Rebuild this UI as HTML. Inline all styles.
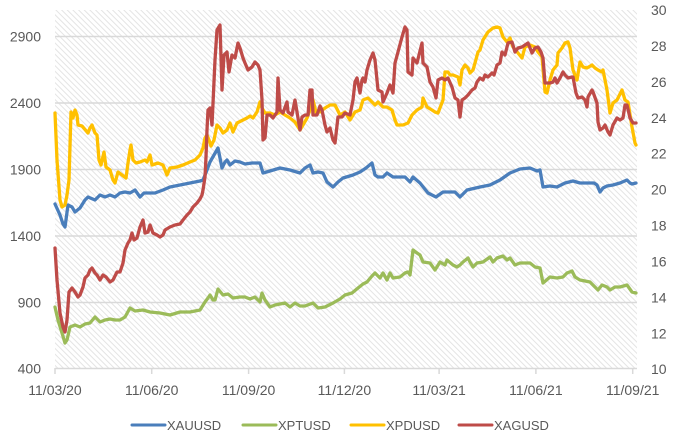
<!DOCTYPE html>
<html><head><meta charset="utf-8"><style>
html,body{margin:0;padding:0;background:#fff;}
svg{display:block;font-family:"Liberation Sans",sans-serif;}
</style></head><body>
<svg width="674" height="439" viewBox="0 0 674 439" xmlns="http://www.w3.org/2000/svg">
<defs>
<pattern id="h" width="4" height="4" patternUnits="userSpaceOnUse" patternTransform="rotate(-45)">
<rect width="4" height="4" fill="#ffffff"/>
<rect width="1" height="4" fill="#e4e4e4"/>
</pattern>
</defs>
<rect x="55" y="10" width="582" height="358" fill="url(#h)"/>
<g stroke="#d9d9d9" stroke-width="1.5">
<line x1="55" y1="36.5" x2="637" y2="36.5"/>
<line x1="55" y1="103" x2="637" y2="103"/>
<line x1="55" y1="169.5" x2="637" y2="169.5"/>
<line x1="55" y1="236" x2="637" y2="236"/>
<line x1="55" y1="302.5" x2="637" y2="302.5"/>
<line x1="55" y1="368.5" x2="637" y2="368.5"/>
<line x1="55" y1="368" x2="55" y2="374"/>
<line x1="151.7" y1="368" x2="151.7" y2="374"/>
<line x1="248.6" y1="368" x2="248.6" y2="374"/>
<line x1="344.4" y1="368" x2="344.4" y2="374"/>
<line x1="439.1" y1="368" x2="439.1" y2="374"/>
<line x1="535.9" y1="368" x2="535.9" y2="374"/>
<line x1="632.7" y1="368" x2="632.7" y2="374"/>
</g>
<g fill="#595959" font-size="14" text-anchor="end">
<text x="41" y="41.5">2900</text>
<text x="41" y="108">2400</text>
<text x="41" y="174.5">1900</text>
<text x="41" y="241">1400</text>
<text x="41" y="307.5">900</text>
<text x="41" y="373.5">400</text>
</g>
<g fill="#595959" font-size="14" text-anchor="start">
<text x="651" y="15">30</text>
<text x="651" y="51">28</text>
<text x="651" y="87">26</text>
<text x="651" y="123">24</text>
<text x="651" y="158.5">22</text>
<text x="651" y="194.5">20</text>
<text x="651" y="230.5">18</text>
<text x="651" y="266.5">16</text>
<text x="651" y="302.5">14</text>
<text x="651" y="338.5">12</text>
<text x="651" y="374">10</text>
</g>
<g fill="#595959" font-size="14" text-anchor="middle">
<text x="55" y="395">11/03/20</text>
<text x="151.7" y="395">11/06/20</text>
<text x="248.6" y="395">11/09/20</text>
<text x="344.4" y="395">11/12/20</text>
<text x="439.1" y="395">11/03/21</text>
<text x="535.9" y="395">11/06/21</text>
<text x="632.7" y="395">11/09/21</text>
</g>
<g fill="none" stroke-width="3.3" stroke-linejoin="round" stroke-linecap="round">
<polyline stroke="#4a7ebb" points="55,204 60,215 63,224 65,227 68,205 72,207 75,212 80,208 85,200 88,197 95,200 100,195 105,197 110,195 115,197 120,193 125,192 130,193 135,190 140,197 144,193 148,193 155,193 163,190 170,187 180,185 190,183 200,181 203,180 207,170 210,162 214,155 218,148 222,168 225,162 227,160 230,165 235,161 240,162 245,164 252,163 260,163 263,173 270,171 280,168 290,170 300,173 305,168 310,165 313,173 318,172 323,173 327,182 333,187 338,182 343,178 353,175 360,172 366,168 372,163 375,175 378,177 383,177 387,173 393,177 405,177 410,182 413,177 420,183 428,193 436,197 443,192 455,192 460,197 467,190 480,187 490,185 500,180 510,173 520,169 530,168 537,171 540,170 543,187 550,186 557,187 565,183 573,181 580,183 587,183 594,183 597,185 600,192 603,188 607,186 613,185 620,183 627,180 630,183 632,184 636,183"/>
<polyline stroke="#9bbb59" points="55,307 58,320 62,333 65,343 67,340 70,327 75,325 80,327 85,324 90,323 95,317 100,322 105,320 110,319 115,320 120,320 125,317 130,308 135,311 143,310 150,312 160,313 170,315 180,312 190,312 200,310 205,302 208,298 210,295 213,300 215,300 218,289 223,295 228,294 233,298 240,297 245,297 250,299 255,297 260,302 262,293 265,300 270,307 275,305 285,303 290,307 295,303 300,306 305,306 313,303 318,308 325,307 333,303 340,299 345,295 352,293 358,288 363,284 367,282 372,276 375,273 380,278 383,273 387,280 390,273 393,278 400,277 405,273 408,272 410,275 413,250 417,253 420,255 423,262 430,263 435,270 440,262 445,265 447,260 453,265 457,267 460,265 463,262 468,258 470,262 473,267 477,263 483,262 490,257 493,262 497,258 503,256 507,260 510,258 515,265 520,263 530,263 535,267 540,268 543,283 550,277 557,278 563,277 567,273 572,271 575,277 580,280 590,282 595,287 598,290 602,285 607,287 610,290 615,287 620,287 627,285 632,292 636,293"/>
<polyline stroke="#ffc000" points="55,113 57,160 60,200 62,207 65,205 67,195 69,180 71,112 73,118 75,110 77,115 78,125 82,126 88,133 90,128 92,125 95,133 97,135 99,160 101,165 104,152 106,167 110,170 113,180 115,183 118,172 122,175 126,178 128,163 130,150 131,145 133,160 136,163 140,162 145,160 147,162 150,155 152,165 158,163 163,165 167,175 170,168 177,167 183,165 190,162 195,160 200,155 203,148 205,138 207,135 209,140 211,146 214,140 217,125 220,128 223,133 227,130 230,123 233,132 237,123 243,120 247,118 250,116 253,118 257,112 260,102 262,108 265,113 270,113 275,115 280,112 285,115 290,118 295,122 300,130 303,125 307,118 310,110 313,100 316,112 320,112 325,108 330,105 335,105 340,115 345,112 350,120 355,112 360,110 363,100 368,98 375,105 378,102 383,107 387,107 392,110 395,120 397,125 403,125 408,123 412,115 417,110 422,107 423,98 427,107 432,110 435,112 438,113 443,100 445,72 448,72 450,75 453,75 458,77 460,85 462,70 465,65 468,68 470,73 473,70 475,63 478,52 480,50 483,40 488,32 493,28 497,27 500,28 503,37 507,42 510,38 513,47 518,53 522,58 525,47 530,45 535,47 538,52 542,57 545,92 547,93 550,80 553,70 557,65 558,53 562,48 565,43 568,42 570,48 573,70 577,80 580,62 583,67 587,68 592,65 595,68 598,70 602,72 603,70 607,90 610,113 613,103 617,100 622,90 625,100 628,102 632,127 635,143 636,145"/>
<polyline stroke="#be4b48" points="55,248 57,280 60,313 63,327 65,332 67,320 69,292 72,288 75,292 78,297 80,295 83,287 85,278 88,275 90,270 92,268 95,273 97,275 100,280 103,275 106,277 110,282 113,280 117,272 120,272 123,263 125,250 128,243 130,240 132,233 134,240 137,238 140,227 143,220 145,233 148,232 150,225 153,233 157,235 160,237 163,235 165,230 170,227 175,225 180,224 183,220 187,215 190,212 193,207 197,203 200,199 202,195 203,190 205,177 206,157 207,130 208,110 210,108 212,125 215,60 217,30 220,25 222,90 224,55 227,52 229,72 232,55 235,58 238,43 240,48 243,58 245,63 248,70 252,67 255,62 258,65 260,70 262,100 263,140 265,138 267,115 270,115 273,118 277,112 278,78 280,110 283,113 287,102 288,112 292,115 295,100 297,112 300,130 302,117 305,115 308,115 310,90 312,90 313,115 317,115 320,106 322,110 325,125 327,132 330,128 333,140 335,143 338,117 342,117 345,113 350,115 353,100 355,82 357,78 360,93 362,80 363,78 365,82 367,70 370,60 373,53 375,60 378,90 382,92 383,102 387,93 390,85 393,93 395,63 398,52 402,37 405,27 407,30 408,72 412,75 413,58 417,63 419,55 422,43 423,63 427,67 430,82 433,87 436,98 438,80 442,78 445,80 448,78 452,87 455,98 458,100 460,117 462,100 465,98 468,95 472,90 475,88 477,82 480,78 483,80 485,75 488,77 492,73 494,75 497,65 500,63 502,52 505,55 508,43 512,42 515,52 518,48 522,47 525,45 528,43 532,53 535,48 538,47 541,52 543,58 545,83 550,83 553,82 555,78 557,83 560,78 563,72 565,75 568,78 572,77 573,77 576,93 578,98 582,97 585,100 587,107 588,97 592,90 593,92 597,103 598,122 600,130 603,128 605,125 608,132 610,135 613,125 617,118 620,120 623,118 625,105 627,105 630,118 633,123 636,123"/>
</g>
<g stroke-width="3" stroke-linecap="round">
<line x1="132" y1="425" x2="165" y2="425" stroke="#4a7ebb"/>
<line x1="243" y1="425" x2="276" y2="425" stroke="#9bbb59"/>
<line x1="351" y1="425" x2="384" y2="425" stroke="#ffc000"/>
<line x1="459" y1="425" x2="492" y2="425" stroke="#be4b48"/>
</g>
<g fill="#595959" font-size="13">
<text x="167" y="430">XAUUSD</text>
<text x="278" y="430">XPTUSD</text>
<text x="386" y="430">XPDUSD</text>
<text x="494" y="430">XAGUSD</text>
</g>
</svg>
</body></html>
